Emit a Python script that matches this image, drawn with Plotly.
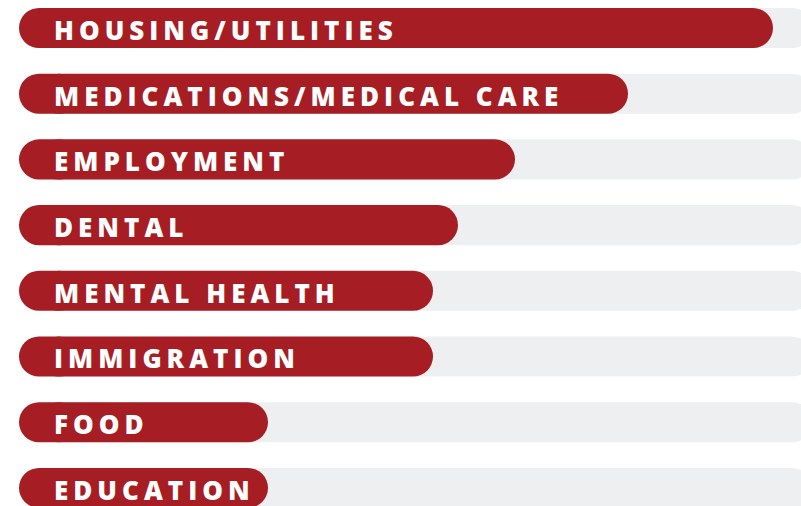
import plotly.graph_objects as go

categories = ["HOUSING/UTILITIES", "MEDICATIONS/MEDICAL CARE", "EMPLOYMENT", "DENTAL",
              "MENTAL HEALTH", "IMMIGRATION", "FOOD", "EDUCATION"]
values = [773, 628, 515, 458, 433, 433, 268, 268]   # bar end (x units)
track_max = 812
start = 19

RED = "#A61E24"
GREY = "#EEEFF1"
BAR_W = 0.61
pos = list(range(len(categories)))

fig = go.Figure()
# grey track
fig.add_trace(go.Bar(
    y=pos, x=[track_max - start - 20] * len(pos), base=[start + 20] * len(pos),
    orientation="h", width=BAR_W, marker=dict(color=GREY, cornerradius="50%", line=dict(width=0)),
    hoverinfo="skip", showlegend=False))
# red bar, right rounded part
fig.add_trace(go.Bar(
    y=pos, x=[v - start - 20 for v in values], base=[start + 20] * len(pos),
    orientation="h", width=BAR_W, marker=dict(color=RED, cornerradius="50%", line=dict(width=0)),
    hoverinfo="skip", showlegend=False))
# red bar, left rounded cap
fig.add_trace(go.Bar(
    y=pos, x=[-60] * len(pos), base=[start + 60] * len(pos),
    orientation="h", width=BAR_W, marker=dict(color=RED, cornerradius="50%", line=dict(width=0)),
    hoverinfo="skip", showlegend=False))

for i, c in enumerate(categories):
    fig.add_annotation(
        x=start + 33, y=i + 0.03, xref="x", yref="y", xanchor="left", yanchor="middle",
        text=f'<span style="letter-spacing:5px">{c}</span>', showarrow=False,
        font=dict(family="Open Sans", size=26, color="white", weight=800))

fig.update_layout(
    width=801, height=506, margin=dict(l=0, r=0, t=0, b=0),
    paper_bgcolor="white", plot_bgcolor="white", barmode="overlay",
    xaxis=dict(range=[0, 801], visible=False, fixedrange=True),
    yaxis=dict(range=[7.275, -0.426], visible=False, fixedrange=True),
)
fig.write_html("out.html", config={"displayModeBar": False, "staticPlot": True},
               post_script="document.body.style.margin='0';document.body.style.overflow='hidden';")
